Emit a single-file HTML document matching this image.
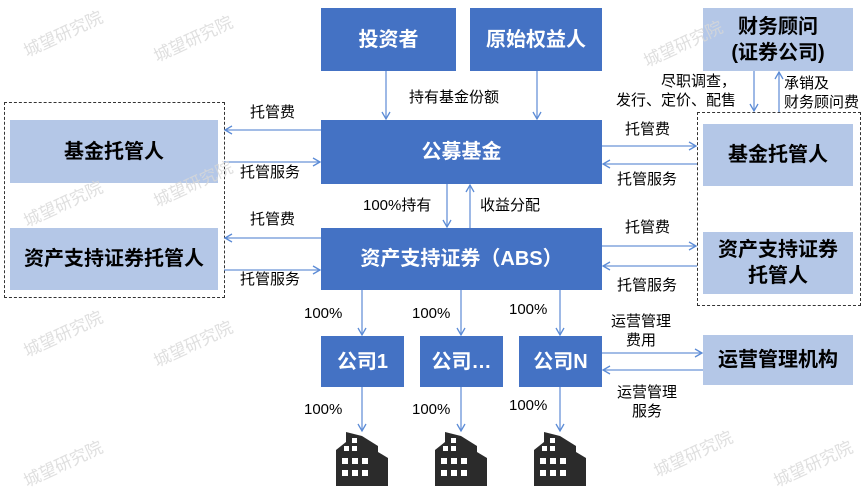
<!DOCTYPE html>
<html><head><meta charset="utf-8"><style>
body{margin:0;width:864px;height:486px;background:#fff;position:relative;overflow:hidden;font-family:"Liberation Sans","Noto Sans CJK SC",sans-serif}
.b{position:absolute;display:flex;align-items:center;justify-content:center;text-align:center;font-weight:bold;font-size:20px;line-height:1.3}
.d{background:#4472C4;color:#fff}
.l{background:#B4C7E7;color:#000}
.t{position:absolute;font-size:15px;color:#000;line-height:1.25;white-space:nowrap}
.w{position:absolute;font-size:17px;color:#d8d8d8;transform:rotate(-25deg);opacity:.8}
.ds{position:absolute;border:1.5px dashed #333}
svg{position:absolute;left:0;top:0}
</style></head><body>
<div class="ds" style="left:4px;top:102px;width:219px;height:194px"></div>
<div class="ds" style="left:697px;top:112px;width:162px;height:192px"></div>
<div class="b d" style="left:321px;top:8px;width:135px;height:63px">投资者</div>
<div class="b d" style="left:470px;top:8px;width:132px;height:63px">原始权益人</div>
<div class="b l" style="left:703px;top:8px;width:150px;height:63px">财务顾问<br>(证券公司)</div>
<div class="b l" style="left:10px;top:120px;width:208px;height:63px">基金托管人</div>
<div class="b l" style="left:10px;top:228px;width:208px;height:62px">资产支持证券托管人</div>
<div class="b d" style="left:321px;top:120px;width:281px;height:64px">公募基金</div>
<div class="b d" style="left:321px;top:228px;width:281px;height:62px">资产支持证券（ABS）</div>
<div class="b l" style="left:703px;top:124px;width:150px;height:62px">基金托管人</div>
<div class="b l" style="left:703px;top:232px;width:150px;height:62px">资产支持证券<br>托管人</div>
<div class="b d" style="left:321px;top:336px;width:83px;height:51px">公司1</div>
<div class="b d" style="left:420px;top:336px;width:83px;height:51px">公司…</div>
<div class="b d" style="left:519px;top:336px;width:83px;height:51px">公司N</div>
<div class="b l" style="left:703px;top:335px;width:150px;height:50px">运营管理机构</div>
<svg width="864" height="486"><defs><marker id="a" markerWidth="10" markerHeight="10" refX="8" refY="5" orient="auto" markerUnits="userSpaceOnUse"><path d="M1,1 L8,5 L1,9" fill="none" stroke="#5B8BD6" stroke-width="1.3"/></marker></defs>
<g stroke="#6A93D8" stroke-width="1.3" marker-end="url(#a)">
<line x1="386" y1="71" x2="386" y2="119"/><line x1="537" y1="71" x2="537" y2="119"/>
<line x1="447" y1="184" x2="447" y2="227"/><line x1="470" y1="228" x2="470" y2="185"/>
<line x1="321" y1="130" x2="225" y2="130"/><line x1="224" y1="162" x2="320" y2="162"/>
<line x1="321" y1="238" x2="225" y2="238"/><line x1="224" y1="270" x2="320" y2="270"/>
<line x1="602" y1="146" x2="696" y2="146"/><line x1="697" y1="164" x2="603" y2="164"/>
<line x1="602" y1="246" x2="696" y2="246"/><line x1="697" y1="266" x2="603" y2="266"/>
<line x1="754" y1="71" x2="754" y2="111"/><line x1="779" y1="112" x2="779" y2="72"/>
<line x1="362" y1="290" x2="362" y2="335"/><line x1="461" y1="290" x2="461" y2="335"/><line x1="560" y1="290" x2="560" y2="335"/>
<line x1="362" y1="387" x2="362" y2="431"/><line x1="461" y1="387" x2="461" y2="431"/><line x1="560" y1="387" x2="560" y2="431"/>
<line x1="602" y1="353" x2="702" y2="353"/><line x1="703" y1="370" x2="603" y2="370"/>
</g>
<g fill="#2b2b2b">
<g id="bd"><path d="M336,486 V450 L346,442 V432 L362,436 L378,446 V452 L388,458 V486 Z"/>
<g fill="#fff"><rect x="344" y="446" width="5" height="5"/><rect x="352" y="446" width="5" height="5"/><rect x="352" y="438" width="5" height="5"/><rect x="342" y="458" width="6" height="6"/><rect x="352" y="458" width="6" height="6"/><rect x="362" y="458" width="6" height="6"/><rect x="342" y="470" width="6" height="6"/><rect x="352" y="470" width="6" height="6"/><rect x="362" y="470" width="6" height="6"/></g></g>
<use href="#bd" x="99"/><use href="#bd" x="198"/>
</g></svg>
<div class="t" style="left:409px;top:89px">持有基金份额</div>
<div class="t" style="left:363px;top:197px">100%持有</div>
<div class="t" style="left:480px;top:197px">收益分配</div>
<div class="t" style="left:250px;top:104px">托管费</div>
<div class="t" style="left:240px;top:164px">托管服务</div>
<div class="t" style="left:250px;top:211px">托管费</div>
<div class="t" style="left:240px;top:271px">托管服务</div>
<div class="t" style="left:625px;top:121px">托管费</div>
<div class="t" style="left:617px;top:171px">托管服务</div>
<div class="t" style="left:625px;top:219px">托管费</div>
<div class="t" style="left:617px;top:277px">托管服务</div>
<div class="t" style="left:616px;top:73px;text-align:right">尽职调查，<br>发行、定价、配售</div>
<div class="t" style="left:784px;top:75px">承销及<br>财务顾问费</div>
<div class="t" style="left:304px;top:305px">100%</div>
<div class="t" style="left:412px;top:305px">100%</div>
<div class="t" style="left:509px;top:301px">100%</div>
<div class="t" style="left:304px;top:401px">100%</div>
<div class="t" style="left:412px;top:401px">100%</div>
<div class="t" style="left:509px;top:397px">100%</div>
<div class="t" style="left:611px;top:313px;text-align:center">运营管理<br>费用</div>
<div class="t" style="left:617px;top:384px;text-align:center">运营管理<br>服务</div>
<div class="w" style="left:20px;top:20px">城望研究院</div>
<div class="w" style="left:150px;top:25px">城望研究院</div>
<div class="w" style="left:640px;top:30px">城望研究院</div>
<div class="w" style="left:20px;top:190px">城望研究院</div>
<div class="w" style="left:150px;top:170px">城望研究院</div>
<div class="w" style="left:20px;top:320px">城望研究院</div>
<div class="w" style="left:150px;top:330px">城望研究院</div>
<div class="w" style="left:20px;top:450px">城望研究院</div>
<div class="w" style="left:770px;top:450px">城望研究院</div>
<div class="w" style="left:650px;top:440px">城望研究院</div>
</body></html>
